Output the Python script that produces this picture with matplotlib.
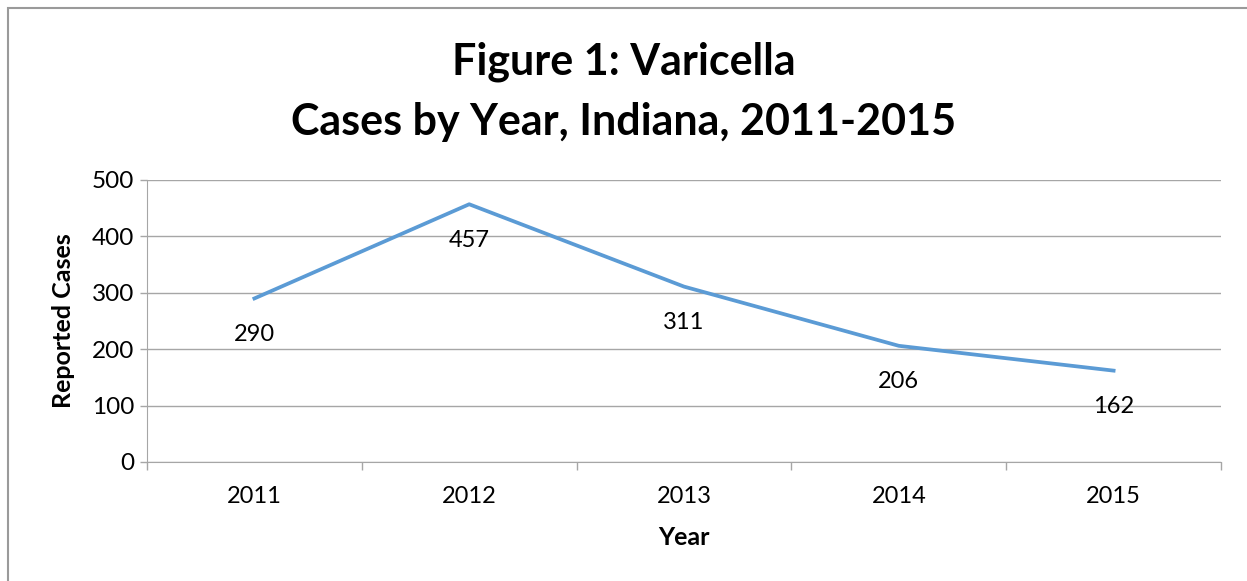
import matplotlib
matplotlib.use("Agg")
import matplotlib.pyplot as plt
from matplotlib.patches import Rectangle

years = ["2011", "2012", "2013", "2014", "2015"]
cases = [290, 457, 311, 206, 162]
yticks = [0, 100, 200, 300, 400, 500]

plt.rcParams['font.family'] = ['Lato', 'DejaVu Sans']

W, H = 1247, 581
fig = plt.figure(figsize=(W / 100, H / 100), dpi=100)
fig.patch.set_facecolor("white")

# outer chart border
fig.add_artist(Rectangle((8 / W, -0.1), 1.2, 1 - 8 / H + 0.1, transform=fig.transFigure,
                         fill=False, edgecolor="#9a9a9a", linewidth=1.5))

left, right, top, bottom = 147, 1221, 180, 462
ax = fig.add_axes([left / W, 1 - bottom / H, (right - left) / W, (bottom - top) / H])

x = list(range(len(years)))
ax.plot(x, cases, color="#5b9bd5", linewidth=2.7, solid_joinstyle="round")
for xi, v in zip(x, cases):
    ax.annotate(str(v), (xi, v), xytext=(0, -26), textcoords="offset points",
                ha="center", va="center", fontsize=17, color="black")

ax.set_xlim(-0.5, len(years) - 0.5)
ax.set_ylim(0, 500)
ax.set_yticks(yticks)
ax.set_yticklabels([str(t) for t in yticks], fontsize=17.5)
ax.yaxis.grid(True, color="#a6a6a6", linewidth=1)
ax.set_axisbelow(True)

ax.set_xticks(x)
ax.set_xticklabels(years, fontsize=17)
ax.set_xticks([i - 0.5 for i in range(len(years) + 1)], minor=True)
ax.tick_params(axis="x", which="major", length=0, pad=17)
ax.tick_params(axis="x", which="minor", length=6, color="#a6a6a6", width=1)
ax.tick_params(axis="y", which="major", length=5, color="#a6a6a6", width=1, direction="out", pad=4)

for s in ["top", "right"]:
    ax.spines[s].set_visible(False)
ax.spines["left"].set_color("#a6a6a6")
ax.spines["bottom"].set_color("#a6a6a6")

ax.set_xlabel("Year", fontsize=18, fontweight="bold", labelpad=14)
ax.set_ylabel("Reported Cases", fontsize=18, fontweight="bold", labelpad=12)

fig.text(0.5, 1 - 62 / H, "Figure 1: Varicella", ha="center", va="center",
         fontsize=31, fontweight="bold")
fig.text(0.5, 1 - 122 / H, "Cases by Year, Indiana, 2011-2015", ha="center", va="center",
         fontsize=31, fontweight="bold")

fig.savefig("out.png", dpi=100, facecolor="white")
